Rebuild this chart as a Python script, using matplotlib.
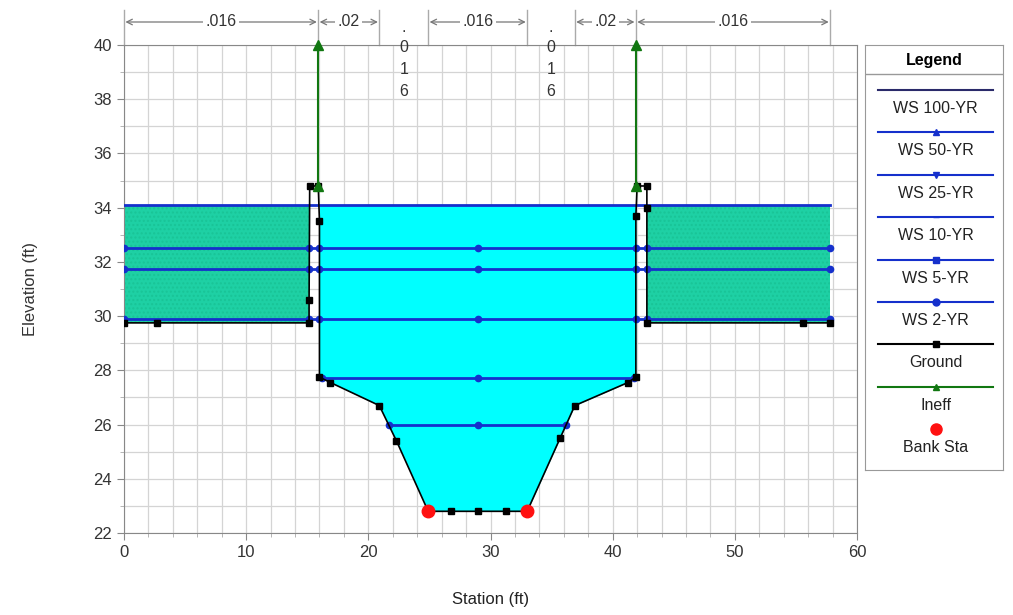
import numpy as np
import matplotlib
matplotlib.use("Agg")
import matplotlib.pyplot as plt
from matplotlib.transforms import blended_transform_factory

plt.rcParams['font.family'] = ['Liberation Sans', 'DejaVu Sans']

# ---------------- data ----------------
ground_sta = [0, 2.7, 15.15, 15.15, 15.2, 15.9, 16.0, 16.0, 16.9, 20.9, 22.3, 24.9, 26.8, 29.0, 31.3,
              33.0, 35.7, 36.9, 41.25, 41.9, 41.9, 42.0, 42.8, 42.8, 42.8, 55.6, 57.8]
ground_elev = [29.75, 29.75, 29.75, 30.6, 34.8, 34.8, 33.5, 27.75, 27.55, 26.7, 25.4, 22.8, 22.8, 22.8, 22.8,
               22.8, 25.5, 26.7, 27.55, 27.75, 33.7, 34.8, 34.8, 34.0, 29.75, 29.75, 29.75]

ws_names = ['WS 100-YR', 'WS 50-YR', 'WS 25-YR', 'WS 10-YR', 'WS 5-YR', 'WS 2-YR']
ws_elev = [34.1, 32.5, 31.75, 29.9, 27.7, 26.0]
ws_markers = ['', '^', 'v', '_', 's', 'o']

bank_sta = [24.9, 33.0]
ineff_sta = [15.9, 41.9]
ineff_elev = [34.8, 34.8]
ineff_top = 40.0

n_breaks = [0, 15.9, 20.9, 24.9, 33.0, 36.9, 41.9, 57.8]
n_labels = ['.016', '.02', '.016', '.016', '.016', '.02', '.016']
n_vertical = [False, False, True, False, True, False, False]

x_ticks = [0, 10, 20, 30, 40, 50, 60]
y_ticks = [22, 24, 26, 28, 30, 32, 34, 36, 38, 40]

# ---------------- helpers ----------------
gx = np.array(ground_sta, float)
gy = np.array(ground_elev, float)


def crossings(w):
    xs = []
    for i in range(len(gx) - 1):
        y0, y1 = gy[i], gy[i + 1]
        if (y0 - w) * (y1 - w) < 0:
            t = (w - y0) / (y1 - y0)
            xs.append(gx[i] + t * (gx[i + 1] - gx[i]))
    if gy[0] < w:
        xs.append(gx[0])
    if gy[-1] < w:
        xs.append(gx[-1])
    return sorted(xs)


def ground_at(s):
    return float(np.interp(s, gx[11:16], gy[11:16]))


W, H = 1013, 615
fig = plt.figure(figsize=(W / 100, H / 100), dpi=100)
L, R, T, B = 124, 857, 45, 533
ax = fig.add_axes([L / W, 1 - B / H, (R - L) / W, (B - T) / H])
ax.set_xlim(0, 60)
ax.set_ylim(22, 40)
ax.set_axisbelow(True)

# grid
ax.set_xticks(x_ticks)
ax.set_yticks(y_ticks)
ax.set_xticks(np.arange(0, 61, 2), minor=True)
ax.set_yticks(np.arange(22, 41, 1), minor=True)
ax.grid(True, which='both', color='#d4d4d4', lw=0.9)
ax.tick_params(which='major', length=5, color='#888888', labelsize=12, labelcolor='#333333')
ax.tick_params(which='minor', length=3, color='#aaaaaa')
for sp in ax.spines.values():
    sp.set_color('#888888')

top_ws = ws_elev[0]
# channel fill (cyan)
ci = [i for i in range(len(gx)) if 16.0 <= gx[i] <= 41.9]
cx, cy = gx[ci], gy[ci]
ax.fill_between(cx, cy, top_ws, where=cy < top_ws, interpolate=True, color='#00ffff', lw=0, zorder=1)
# overbank ineffective fills (teal)
teal = '#1ed0a4'
li = [i for i in range(len(gx)) if gx[i] <= 15.15 and gy[i] < 30]
ax.fill_between(gx[li], gy[li], top_ws, color=teal, lw=0, hatch='....', edgecolor='#19c497', zorder=1)
ri = [i for i in range(len(gx)) if gx[i] >= 42.8 and gy[i] < 30]
ax.fill_between(gx[ri], gy[ri], top_ws, color=teal, lw=0, hatch='....', edgecolor='#19c497', zorder=1)

# water surfaces
ws_color = '#1530cc'
mid = 0.5 * (bank_sta[0] + bank_sta[1])
for name, w, m in zip(ws_names, ws_elev, ws_markers):
    xs = crossings(w)
    ax.plot([xs[0], xs[-1]], [w, w], color=ws_color, lw=2.0, zorder=3)
    if m:
        pts = xs + [mid]
        ax.plot(pts, [w] * len(pts), ls='none', marker='o', ms=4.5, color=ws_color, zorder=4)

# ground
ax.plot(gx, gy, color='black', lw=1.2, marker='s', ms=4.5, zorder=5)

# ineffective flow markers
for s, e in zip(ineff_sta, ineff_elev):
    ax.plot([s, s], [e, ineff_top], color='#117711', lw=1.5, marker='^', ms=7,
            clip_on=False, zorder=6)

# bank stations
ax.plot(bank_sta, [ground_at(s) for s in bank_sta], ls='none', marker='o', ms=9,
        color='#ff1111', zorder=7)

# axis labels
ax.set_xlabel('Station (ft)', fontsize=12, labelpad=23, color='#222222')
ax.set_ylabel('Elevation (ft)', fontsize=12, labelpad=40, color='#333333')

# roughness annotations
trans = blended_transform_factory(ax.transData, ax.transAxes)
h = B - T
y_arrow = 1 + (T - 22) / h
y_tick_top = 1 + (T - 10) / h
gcol = '#777777'
for b in n_breaks:
    ax.plot([b, b], [1.0, y_tick_top], transform=trans, color='#aaaaaa', lw=1, clip_on=False)
for i, lab in enumerate(n_labels):
    a, b = n_breaks[i], n_breaks[i + 1]
    c = 0.5 * (a + b)
    if n_vertical[i]:
        chars = list(lab)
        ys = [1 + (T - 27) / h, 1 + (T - 48) / h, 1 + (T - 70) / h, 1 + (T - 91) / h]
        for ch, yy in zip(chars, ys):
            ax.text(c, yy, ch, transform=trans, ha='center', va='center', fontsize=11.5,
                    color='#333333', clip_on=False, zorder=8)
    else:
        ax.annotate('', xy=(a, y_arrow), xytext=(b, y_arrow), xycoords=trans, textcoords=trans,
                    arrowprops=dict(arrowstyle='<->', color=gcol, lw=0.9, shrinkA=1, shrinkB=1,
                                    mutation_scale=10), annotation_clip=False)
        ax.text(c, y_arrow, lab, transform=trans, ha='center', va='center', fontsize=11.5,
                color='#333333', clip_on=False,
                bbox=dict(boxstyle='square,pad=0.15', fc='white', ec='none'))

# legend box (pixel coordinates)
LL, LR, LT, LB = 865, 1003, 45, 470
lax = fig.add_axes([LL / W, 1 - LB / H, (LR - LL) / W, (LB - LT) / H])
lax.set_xlim(LL, LR)
lax.set_ylim(LB, LT)
lax.set_xticks([])
lax.set_yticks([])
for sp in lax.spines.values():
    sp.set_color('#999999')
lax.text((LL + LR) / 2, 60, 'Legend', ha='center', va='center', fontsize=11.5, fontweight='bold')
lax.plot([LL, LR], [74, 74], color='#999999', lw=1)
entries = [(n, ws_color, m if m else None) for n, m in zip(ws_names, ws_markers)]
entries += [('Ground', 'black', 's'), ('Ineff', '#117711', '^'), ('Bank Sta', '#ff1111', 'o')]
for i, (name, col, mk) in enumerate(entries):
    yl = 90 + 42.4 * i
    if name != 'Bank Sta':
        lax.plot([878, 993], [yl, yl], color=col if name != 'WS 100-YR' else '#2a2a6a', lw=1.5)
        if mk:
            lax.plot([935.5], [yl], marker=mk, ms=5, color=col)
    else:
        lax.plot([935.5], [yl], marker='o', ms=8, color=col)
    lax.text(935.5, yl + 18.5, name, ha='center', va='center', fontsize=11.5, color='#222222')

fig.savefig('out.png', dpi=100)
